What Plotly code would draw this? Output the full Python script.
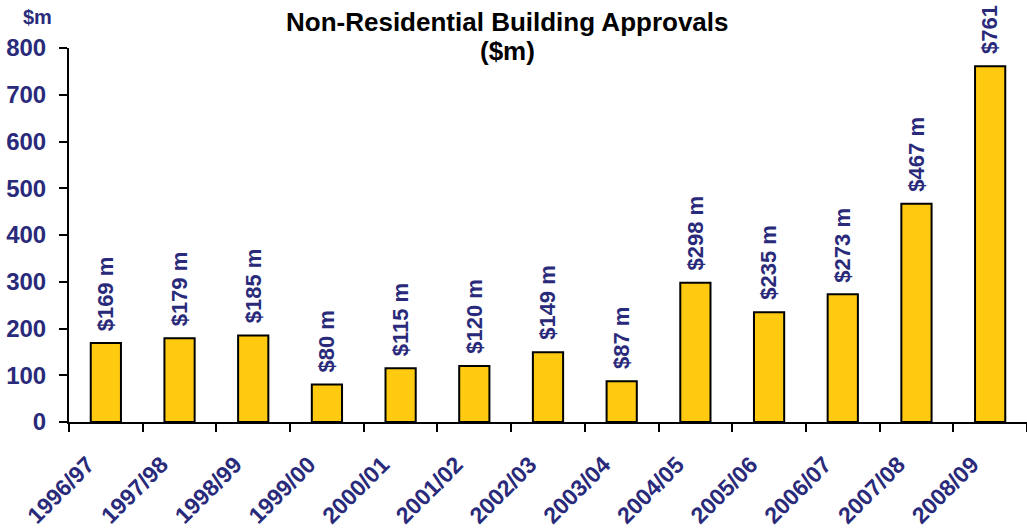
import plotly.graph_objects as go

years = ["1996/97", "1997/98", "1998/99", "1999/00", "2000/01", "2001/02", "2002/03",
         "2003/04", "2004/05", "2005/06", "2006/07", "2007/08", "2008/09"]
values = [169, 179, 185, 80, 115, 120, 149, 87, 298, 235, 273, 467, 761]
labels = ["$%d m" % v for v in values]
y_ticks = [0, 100, 200, 300, 400, 500, 600, 700, 800]

NAVY = "#2A2A7A"
GOLD = "#FFCA0F"
FONT = "Liberation Sans, Arial, sans-serif"
PAD = "\u00a0" * 4  # trailing pad shifts the rotated category labels down-left

fig = go.Figure(go.Bar(
    x=years, y=values,
    marker=dict(color=GOLD, line=dict(color="black", width=2)),
))

for cat, val, lab in zip(years, values, labels):
    fig.add_annotation(x=cat, y=val, text=lab, textangle=-90, showarrow=False,
                       xanchor="center", yanchor="bottom", yshift=10,
                       font=dict(family=FONT, size=22, color=NAVY, weight="bold"))

fig.update_layout(
    width=1027, height=530,
    margin=dict(l=69, r=0, t=48, b=108),
    plot_bgcolor="white", paper_bgcolor="white",
    bargap=0.59, showlegend=False,
    font=dict(family=FONT, color=NAVY),
)
fig.update_xaxes(
    type="category", tickson="boundaries", automargin=False,
    tickmode="array", tickvals=years, ticktext=[y + PAD for y in years],
    showline=True, linecolor="black", linewidth=2,
    ticks="outside", ticklen=8, tickwidth=2, tickcolor="black",
    tickangle=-45, showgrid=False, ticklabelstandoff=0,
    tickfont=dict(family=FONT, size=23, color=NAVY, weight="bold"),
)
fig.update_yaxes(
    range=[0, 800], tickvals=y_ticks, automargin=False,
    showline=True, linecolor="black", linewidth=2,
    ticks="outside", ticklen=8, tickwidth=2, tickcolor="black",
    showgrid=False, zeroline=False, ticklabelstandoff=8,
    tickfont=dict(family=FONT, size=24, color=NAVY, weight="bold"),
)

XC = (507 - 69) / 958
fig.add_annotation(text="Non-Residential Building Approvals", xref="paper", yref="paper",
                   x=XC, y=1 + (48 - 22) / 374, xanchor="center", yanchor="middle",
                   showarrow=False, font=dict(family=FONT, size=26, color="black", weight="bold"))
fig.add_annotation(text="($m)", xref="paper", yref="paper",
                   x=XC, y=1 + (48 - 51) / 374, xanchor="center", yanchor="middle",
                   showarrow=False, font=dict(family=FONT, size=26, color="black", weight="bold"))
fig.add_annotation(text="$m", xref="paper", yref="paper",
                   x=(37 - 69) / 958, y=1 + (48 - 17) / 374, xanchor="center", yanchor="middle",
                   showarrow=False, font=dict(family=FONT, size=20, color=NAVY, weight="bold"))

fig.write_html("out.html", config={"displayModeBar": False},
               post_script="document.body.style.margin='0';")
